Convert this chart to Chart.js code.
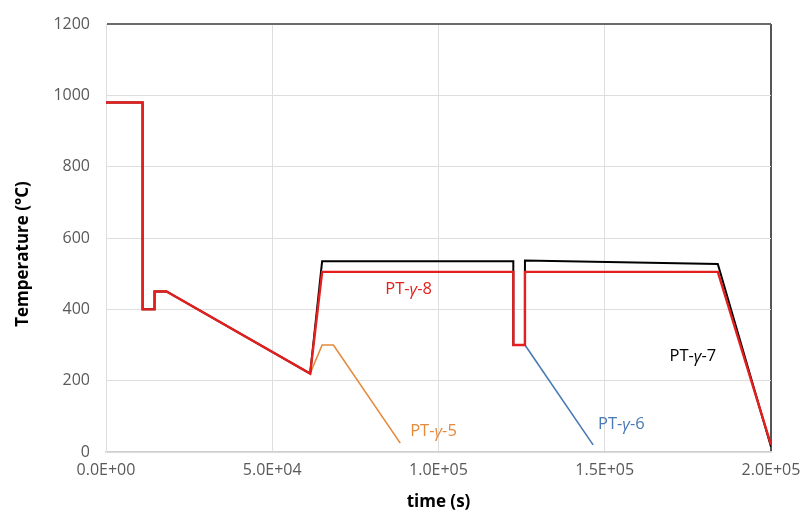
<!DOCTYPE html>
<html>
<head>
<meta charset="utf-8">
<script src="https://cdn.jsdelivr.net/npm/chart.js@4"></script>
<style>
  html, body { margin: 0; padding: 0; background: #ffffff; }
  #wrap { width: 804px; height: 518px; }
</style>
</head>
<body>
<div id="wrap"><canvas id="c" width="804" height="518"></canvas></div>
<script>
// Heat-treatment schedules: time (s) vs temperature (°C)
const pt8Time = [0, 11000, 11000, 14600, 14600, 18200, 61400, 65000, 122500, 122500, 126000, 126000, 184000, 200000];
const pt8Temp = [980, 980, 400, 400, 450, 450, 220, 505, 505, 300, 300, 505, 505, 20];

const pt7Time = [0, 11000, 11000, 14600, 14600, 18200, 61400, 65000, 122500, 122500, 126000, 126000, 184000, 200000];
const pt7Temp = [980, 980, 400, 400, 450, 450, 220, 535, 535, 300, 300, 537, 527, 15];

const pt5Time = [61400, 65000, 68400, 88500];
const pt5Temp = [220, 300, 300, 25];

const pt6Time = [126000, 146500];
const pt6Temp = [300, 20];

const xTicks = [0, 50000, 100000, 150000, 200000];
const yTicks = [0, 200, 400, 600, 800, 1000, 1200];

const seriesNames = ['PT-γ-8', 'PT-γ-7', 'PT-γ-5', 'PT-γ-6'];
const seriesColors = ['#e3201f', '#000000', '#e48a3c', '#4a7ab3'];

function pts(xs, ys) { return xs.map((x, i) => ({ x: x, y: ys[i] })); }

function sci(v) {
  const [m, e] = Number(v).toExponential(1).split('e');
  const sign = e[0] === '-' ? '-' : '+';
  const digits = e.replace(/[+-]/, '').padStart(2, '0');
  return m + 'E' + sign + digits;
}

// Series name labels placed beside each curve (data coords)
const labelPos = [
  { x: 91000, y: 455 },
  { x: 176500, y: 267 },
  { x: 98500, y: 57 },
  { x: 155000, y: 79 }
];

const FONT = '"Open Sans", "Liberation Sans", sans-serif';

const textPlugin = {
  id: 'curveText',
  afterDatasetsDraw(chart) {
    const { ctx, scales: { x, y } } = chart;
    ctx.save();
    ctx.textBaseline = 'middle';
    labelPos.forEach((p, i) => {
      const name = seriesNames[i];
      const parts = name.split('γ');
      const cx = x.getPixelForValue(p.x);
      const cy = y.getPixelForValue(p.y);
      const fN = '16.5px ' + FONT;
      const fI = 'italic 16.5px ' + FONT;
      ctx.font = fN; const w1 = ctx.measureText(parts[0]).width; const w3 = ctx.measureText(parts[1]).width;
      ctx.font = fI; const w2 = ctx.measureText('γ').width;
      let sx = cx - (w1 + w2 + w3) / 2;
      ctx.fillStyle = seriesColors[i];
      ctx.textAlign = 'left';
      ctx.font = fN; ctx.fillText(parts[0], sx, cy); sx += w1;
      ctx.font = fI; ctx.fillText('γ', sx, cy + 1); sx += w2;
      ctx.font = fN; ctx.fillText(parts[1], sx, cy);
    });
    // axis titles
    ctx.fillStyle = '#000000';
    ctx.font = 'bold 17px ' + FONT;
    ctx.textAlign = 'center';
    ctx.fillText('time (s)', (x.left + x.right) / 2, 502);
    ctx.translate(23, 254);
    ctx.rotate(-Math.PI / 2);
    ctx.fillText('Temperature (°C)', 0, 0);
    ctx.restore();
  }
};

const lineW = [2.4, 2, 1.6, 1.6];
const datasets = [
  pts(pt8Time, pt8Temp),
  pts(pt7Time, pt7Temp),
  pts(pt5Time, pt5Temp),
  pts(pt6Time, pt6Temp)
].map((d, i) => ({
  label: seriesNames[i],
  data: d,
  showLine: true,
  borderColor: seriesColors[i],
  backgroundColor: seriesColors[i],
  borderWidth: lineW[i],
  pointRadius: 0,
  tension: 0,
  fill: false
}));

new Chart(document.getElementById('c'), {
  type: 'scatter',
  data: { datasets: datasets },
  options: {
    responsive: false,
    animation: false,
    layout: { padding: { left: 0, right: 33, top: 24, bottom: 0 } },
    plugins: { legend: { display: false }, tooltip: { enabled: false } },
    scales: {
      x: {
        type: 'linear',
        min: 0, max: 200000,
        afterBuildTicks(s) { s.ticks = xTicks.map(v => ({ value: v })); },
        afterFit(s) { s.height = 66; s.paddingLeft = 0; s.paddingRight = 0; },
        border: { display: true, color: '#cfcfcf', width: 1.5 },
        grid: {
          drawTicks: false,
          color: c => c.tick && c.tick.value === 200000 ? '#555555' : '#dedede',
          lineWidth: c => c.tick && c.tick.value === 200000 ? 2 : 1
        },
        ticks: {
          padding: 9,
          color: '#595959',
          font: { family: FONT, size: 16 },
          callback: v => sci(v),
          maxRotation: 0
        }
      },
      y: {
        type: 'linear',
        min: 0, max: 1200,
        afterBuildTicks(s) { s.ticks = yTicks.map(v => ({ value: v })); },
        afterFit(s) { s.width = 106; s.paddingTop = 0; s.paddingBottom = 0; },
        border: { display: true, color: '#dedede', width: 1 },
        grid: {
          drawTicks: false,
          color: c => c.tick && c.tick.value === 1200 ? '#6a6a6a' : (c.tick && c.tick.value === 0 ? '#cfcfcf' : '#dedede'),
          lineWidth: c => c.tick && c.tick.value === 1200 ? 2 : (c.tick && c.tick.value === 0 ? 1.5 : 1)
        },
        ticks: {
          padding: 16,
          color: '#595959',
          font: { family: FONT, size: 16 },
          callback: v => String(v)
        }
      }
    }
  },
  plugins: [textPlugin]
});
</script>
</body>
</html>
